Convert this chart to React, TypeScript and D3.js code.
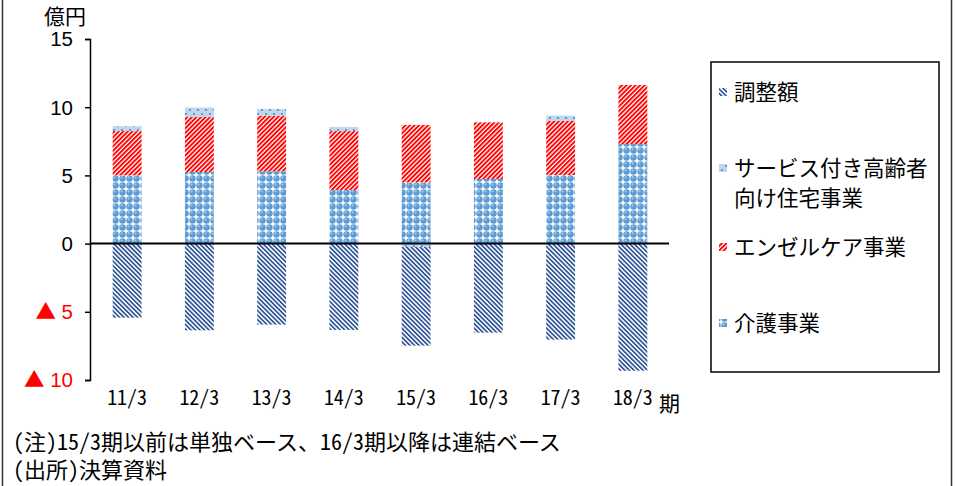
import React, { useEffect, useRef } from 'react';
import * as d3 from 'd3';

const categories = ['11/3', '12/3', '13/3', '14/3', '15/3', '16/3', '17/3', '18/3'];
const kaigo = [5.0, 5.25, 5.3, 3.93, 4.49, 4.74, 5.03, 7.3];
const angel = [3.25, 4.03, 4.08, 4.32, 4.21, 4.15, 3.96, 4.33];
const service = [0.35, 0.7, 0.49, 0.3, -0.25, 0, 0.39, 0];
const adjust = [-5.43, -6.36, -5.94, -6.33, -7.23, -6.53, -7.04, -9.32];
const yTicks = [-10, -5, 0, 5, 10, 15];

const seriesKeys = ['kaigo', 'angel', 'service', 'adjust'];
const legendItems = [
  { key: 'adjust', lines: ['調整額'], y: 92 },
  { key: 'service', lines: ['サービス付き高齢者', '向け住宅事業'], y: 168 },
  { key: 'angel', lines: ['エンゼルケア事業'], y: 247 },
  { key: 'kaigo', lines: ['介護事業'], y: 323 },
];
const notes = ['(注)15/3期以前は単独ベース、16/3期以降は連結ベース', '(出所)決算資料'];

const JP = '"Noto Sans CJK JP", "Noto Sans", sans-serif';

const App: React.FC = () => {
  const svgRef = useRef<SVGSVGElement>(null);

  useEffect(() => {
    if (!svgRef.current) return;
    const svg = d3.select(svgRef.current);
    svg.selectAll('*').remove();

    const rows = categories.map((c, i) => ({
      cat: c,
      kaigo: kaigo[i],
      angel: angel[i],
      service: service[i],
      adjust: adjust[i],
    }));

    // patterns
    const defs = svg.append('defs');
    const pAdj = defs.append('pattern').attr('id', 'p-adjust').attr('patternUnits', 'userSpaceOnUse')
      .attr('width', 3.2).attr('height', 3.2).attr('patternTransform', 'rotate(-45)');
    pAdj.append('rect').attr('width', 3.2).attr('height', 3.2).attr('fill', '#fff');
    pAdj.append('rect').attr('width', 1.7).attr('height', 3.2).attr('fill', '#2f5597');

    const pAng = defs.append('pattern').attr('id', 'p-angel').attr('patternUnits', 'userSpaceOnUse')
      .attr('width', 3.2).attr('height', 3.2).attr('patternTransform', 'rotate(45)');
    pAng.append('rect').attr('width', 3.2).attr('height', 3.2).attr('fill', '#fff');
    pAng.append('rect').attr('width', 1.9).attr('height', 3.2).attr('fill', '#ff0000');

    const pSvc = defs.append('pattern').attr('id', 'p-service').attr('patternUnits', 'userSpaceOnUse')
      .attr('width', 8).attr('height', 8);
    pSvc.append('rect').attr('width', 8).attr('height', 8).attr('fill', '#bdd7ee');
    pSvc.append('circle').attr('cx', 2).attr('cy', 2).attr('r', 0.9).attr('fill', '#4a72b8');
    pSvc.append('circle').attr('cx', 6).attr('cy', 6).attr('r', 0.9).attr('fill', '#4a72b8');

    const pKai = defs.append('pattern').attr('id', 'p-kaigo').attr('patternUnits', 'userSpaceOnUse')
      .attr('width', 7).attr('height', 7);
    pKai.append('rect').attr('width', 7).attr('height', 7).attr('fill', '#fff');
    pKai.append('circle').attr('cx', 3.5).attr('cy', 3.5).attr('r', 3.2).attr('fill', '#5b9bd5');
    pKai.append('circle').attr('cx', 2.6).attr('cy', 2.4).attr('r', 1.1).attr('fill', '#a3c8ea');

    const x = d3.scaleBand<string>().domain(categories).range([91, 669]).paddingInner(0.6).paddingOuter(0.3);
    const y = d3.scaleLinear().domain([-10, 15]).range([380, 39]);

    const stacked = d3.stack<any>().keys(seriesKeys).offset(d3.stackOffsetDiverging)(rows);

    // outer frame sides
    svg.append('line').attr('x1', 2.5).attr('x2', 2.5).attr('y1', 0).attr('y2', 486).attr('stroke', '#333').attr('stroke-width', 1.5);
    svg.append('line').attr('x1', 951.5).attr('x2', 951.5).attr('y1', 0).attr('y2', 486).attr('stroke', '#333').attr('stroke-width', 1.5);

    // bars
    stacked.forEach(layer => {
      svg.append('g').selectAll('rect')
        .data(layer)
        .enter()
        .append('rect')
        .attr('x', d => x(d.data.cat) || 0)
        .attr('width', x.bandwidth())
        .attr('y', d => y(Math.max(d[0], d[1])))
        .attr('height', d => Math.abs(y(d[0]) - y(d[1])))
        .attr('fill', `url(#p-${layer.key})`);
    });

    // y axis
    const yAxis = svg.append('g').attr('transform', 'translate(90,0)')
      .call(d3.axisLeft(y).tickValues(yTicks).tickSize(5).tickFormat(() => ''));
    yAxis.select('.domain').attr('stroke', '#000').attr('stroke-width', 1.5);
    yAxis.selectAll('.tick line').attr('stroke', '#000').attr('stroke-width', 1.5);

    const yLabels = svg.append('g').selectAll('text')
      .data(yTicks)
      .enter()
      .append('text')
      .attr('x', 73)
      .attr('y', d => y(d))
      .attr('dy', '0.36em')
      .attr('text-anchor', 'end')
      .attr('font-family', '"Liberation Sans", Arial, sans-serif')
      .attr('font-size', 20.5)
      .attr('fill', d => (d < 0 ? '#ff0000' : '#000'));
    yLabels.filter(d => d < 0).append('tspan').attr('font-family', JP).text('▲');
    yLabels.append('tspan').text(d => (d < 0 ? ` ${-d}` : `${d}`));

    // zero line
    svg.append('line').attr('x1', 90).attr('x2', 669).attr('y1', y(0)).attr('y2', y(0))
      .attr('stroke', '#000').attr('stroke-width', 2);

    // x labels
    svg.append('g').selectAll('text')
      .data(categories)
      .enter()
      .append('text')
      .attr('x', d => (x(d) || 0) + x.bandwidth() / 2)
      .attr('y', 405)
      .attr('text-anchor', 'middle')
      .attr('font-family', JP)
      .attr('font-size', 20)
      .style('font-feature-settings', '"hwid"')
      .attr('fill', '#000')
      .text(d => d);

    svg.append('text').attr('x', 659).attr('y', 411).attr('font-family', JP).attr('font-size', 21).text('期');
    svg.append('text').attr('x', 44).attr('y', 24).attr('font-family', JP).attr('font-size', 21).text('億円');

    // legend
    svg.append('rect').attr('x', 711).attr('y', 62).attr('width', 228).attr('height', 310)
      .attr('fill', '#fff').attr('stroke', '#000').attr('stroke-width', 1.5);
    legendItems.forEach(item => {
      svg.append('rect').attr('x', 719).attr('y', item.y - 4).attr('width', 8).attr('height', 8)
        .attr('fill', `url(#p-${item.key})`);
      item.lines.forEach((ln, i) => {
        svg.append('text').attr('x', 734).attr('y', item.y + i * 30).attr('dy', '0.36em')
          .attr('font-family', JP).attr('font-size', 21.5).attr('fill', '#000').text(ln);
      });
    });

    // notes
    notes.forEach((n, i) => {
      svg.append('text').attr('x', 13).attr('y', 450 + i * 28)
        .attr('font-family', JP).attr('font-size', 22)
        .style('font-feature-settings', '"hwid"')
        .attr('fill', '#000').text(n);
    });
  }, []);

  return (
    <svg ref={svgRef} width={957} height={486}
      style={{ position: 'absolute', left: 0, top: 0, background: '#fff' }} />
  );
};

export default App;
